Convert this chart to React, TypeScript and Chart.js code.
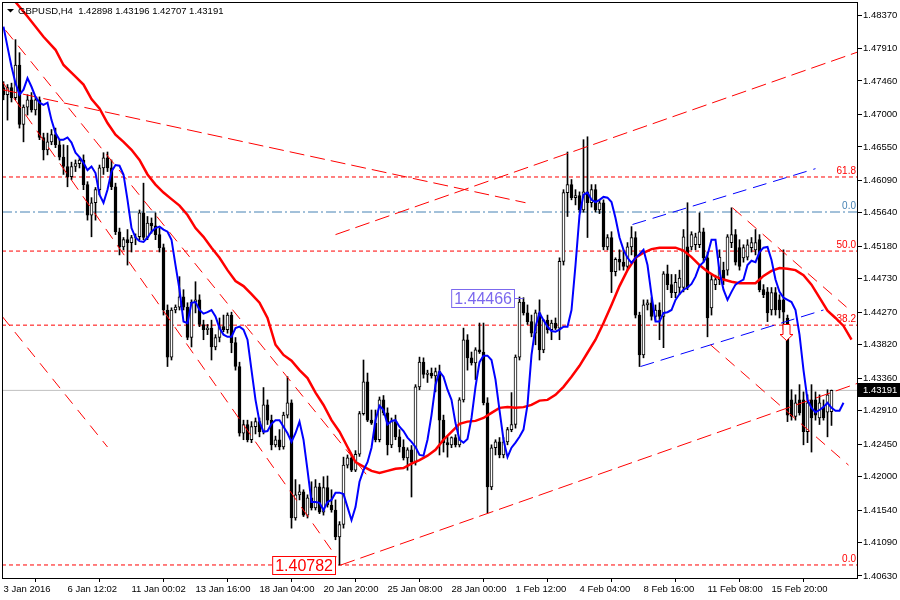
import React, { useEffect, useRef } from 'react';
import { Chart, registerables } from 'chart.js';

Chart.register(...registerables);

// Prices are stored in ten-thousandths (pips); divided by PIP when plotted.
const PIP = 10000;

const opens = [
  14737, 14727, 14737, 14723, 14768, 14686, 14710, 14720, 14706, 14720,
  14668, 14651, 14662, 14672, 14658, 14641, 14628, 14614, 14628, 14632,
  14637, 14603, 14561, 14578, 14596, 14626, 14640, 14626, 14600, 14538,
  14517, 14527, 14523, 14530, 14531, 14564, 14530, 14550, 14546, 14534,
  14516, 14430, 14365, 14430, 14434, 14448, 14434, 14392, 14441, 14444,
  14410, 14403, 14405, 14379, 14392, 14407, 14403, 14423, 14385, 14352,
  14260, 14272, 14251, 14269, 14276, 14262, 14299, 14278, 14244, 14251,
  14241, 14285, 14302, 14143, 14175, 14179, 14147, 14171, 14157, 14186,
  14151, 14185, 14161, 14154, 14117, 14134, 14216, 14226, 14209, 14231,
  14287, 14331, 14278, 14274, 14251, 14306, 14288, 14244, 14276, 14255,
  14241, 14226, 14237, 14220, 14324, 14358, 14341, 14343, 14339, 14345,
  14278, 14247, 14244, 14254, 14244, 14306, 14389, 14364, 14357, 14375,
  14372, 14302, 14186, 14240, 14248, 14230, 14248, 14265, 14272, 14365,
  14441, 14426, 14414, 14398, 14426, 14375, 14416, 14403, 14412, 14405,
  14497, 14592, 14603, 14585, 14588, 14568, 14593, 14578, 14596, 14568,
  14578, 14517, 14530, 14483, 14500, 14496, 14490, 14517, 14530, 14423,
  14368, 14437, 14440, 14421, 14430, 14421, 14480, 14465, 14454, 14461,
  14461, 14517, 14517, 14520, 14520, 14538, 14502, 14433, 14465, 14472,
  14485, 14485, 14523, 14534, 14516, 14502, 14503, 14516, 14513, 14527,
  14458, 14455, 14430, 14454, 14444, 14444, 14419, 14306, 14283, 14306,
  14306, 14262, 14306, 14306, 14281, 14296, 14289, 14289.8,
];
const highs = [
  14745, 14741, 14743, 14803, 14785, 14713, 14727, 14730, 14723, 14724,
  14674, 14674, 14679, 14681, 14665, 14658, 14657, 14634, 14637, 14640,
  14644, 14607, 14585, 14599, 14630, 14647, 14648, 14637, 14605, 14543,
  14530, 14541, 14533, 14535, 14568, 14605, 14559, 14557, 14564, 14543,
  14521, 14437, 14433, 14437, 14476, 14458, 14440, 14444, 14469, 14451,
  14416, 14410, 14416, 14396, 14419, 14423, 14426, 14427, 14392, 14358,
  14278, 14278, 14276, 14281, 14281, 14323, 14306, 14285, 14256, 14265,
  14289, 14338, 14306, 14196, 14189, 14182, 14175, 14193, 14196, 14191,
  14200, 14201, 14182, 14168, 14138, 14227, 14230, 14230, 14236, 14290,
  14361, 14343, 14292, 14292, 14310, 14312, 14295, 14281, 14285, 14265,
  14251, 14240, 14243, 14327, 14365, 14364, 14347, 14350, 14350, 14354,
  14285, 14255, 14255, 14258, 14309, 14405, 14396, 14372, 14378, 14412,
  14412, 14309, 14244, 14251, 14254, 14254, 14268, 14316, 14368, 14448,
  14447, 14437, 14423, 14430, 14444, 14417, 14423, 14416, 14419, 14502,
  14596, 14648, 14610, 14596, 14593, 14665, 14669, 14603, 14603, 14582,
  14582, 14534, 14538, 14502, 14513, 14513, 14523, 14545, 14538, 14427,
  14444, 14444, 14447, 14437, 14440, 14483, 14492, 14479, 14479, 14485,
  14541, 14578, 14538, 14536, 14564, 14543, 14510, 14478, 14478, 14513,
  14496, 14534, 14571, 14541, 14527, 14520, 14527, 14530, 14541, 14534,
  14465, 14461, 14461, 14461, 14451, 14513, 14423, 14320, 14313, 14327,
  14317, 14313, 14327, 14317, 14313, 14306, 14320, 14319.6,
];
const lows = [
  14720, 14692, 14717, 14720, 14681, 14662, 14699, 14703, 14699, 14665,
  14637, 14644, 14658, 14654, 14637, 14617, 14600, 14610, 14621, 14626,
  14596, 14554, 14531, 14554, 14589, 14617, 14621, 14596, 14534, 14506,
  14513, 14492, 14510, 14520, 14527, 14527, 14527, 14536, 14527, 14510,
  14423, 14352, 14361, 14426, 14430, 14430, 14389, 14379, 14426, 14407,
  14389, 14396, 14361, 14375, 14386, 14400, 14398, 14371, 14347, 14256,
  14251, 14248, 14247, 14259, 14255, 14259, 14272, 14237, 14241, 14237,
  14238, 14281, 14129, 14140, 14168, 14145, 14143, 14154, 14154, 14149,
  14147, 14158, 14151, 14113, 14078, 14129, 14212, 14207, 14207, 14228,
  14285, 14276, 14272, 14248, 14248, 14285, 14230, 14240, 14251, 14234,
  14223, 14209, 14172, 14216, 14320, 14336, 14330, 14336, 14317, 14230,
  14234, 14227, 14240, 14241, 14241, 14303, 14347, 14354, 14334, 14370,
  14299, 14150, 14182, 14230, 14226, 14226, 14244, 14262, 14267, 14361,
  14423, 14410, 14393, 14382, 14361, 14371, 14398, 14389, 14403, 14389,
  14492, 14559, 14582, 14575, 14565, 14565, 14530, 14572, 14565, 14563,
  14513, 14513, 14454, 14477, 14485, 14485, 14485, 14506, 14419, 14352,
  14364, 14430, 14416, 14416, 14389, 14378, 14458, 14447, 14447, 14451,
  14455, 14458, 14513, 14513, 14516, 14496, 14393, 14423, 14458, 14465,
  14465, 14478, 14516, 14492, 14485, 14496, 14499, 14510, 14506, 14455,
  14447, 14414, 14423, 14423, 14419, 14403, 14276, 14278, 14278, 14285,
  14244, 14247, 14234, 14278, 14272, 14278, 14255, 14270.7,
];
const closes = [
  14727, 14737, 14723, 14768, 14686, 14710, 14720, 14706, 14720, 14668,
  14651, 14662, 14672, 14658, 14641, 14628, 14614, 14628, 14632, 14637,
  14603, 14561, 14578, 14596, 14626, 14640, 14626, 14600, 14538, 14517,
  14527, 14523, 14530, 14531, 14564, 14530, 14550, 14546, 14534, 14516,
  14430, 14365, 14430, 14434, 14448, 14434, 14392, 14441, 14444, 14410,
  14403, 14405, 14379, 14392, 14407, 14403, 14423, 14385, 14352, 14260,
  14272, 14251, 14269, 14276, 14262, 14299, 14278, 14244, 14251, 14241,
  14285, 14302, 14143, 14175, 14179, 14147, 14171, 14157, 14186, 14151,
  14185, 14161, 14154, 14117, 14134, 14216, 14226, 14209, 14231, 14287,
  14331, 14278, 14274, 14251, 14306, 14288, 14244, 14276, 14255, 14241,
  14226, 14237, 14220, 14324, 14358, 14341, 14343, 14339, 14345, 14278,
  14247, 14244, 14254, 14244, 14306, 14389, 14364, 14357, 14375, 14372,
  14302, 14186, 14240, 14248, 14230, 14248, 14265, 14272, 14365, 14441,
  14426, 14414, 14398, 14426, 14375, 14416, 14403, 14412, 14405, 14497,
  14592, 14603, 14585, 14588, 14568, 14593, 14578, 14596, 14568, 14578,
  14517, 14530, 14483, 14500, 14496, 14490, 14517, 14530, 14423, 14368,
  14437, 14440, 14421, 14430, 14421, 14480, 14465, 14454, 14468, 14474,
  14531, 14461, 14534, 14531, 14538, 14502, 14419, 14472, 14472, 14503,
  14472, 14531, 14534, 14496, 14490, 14516, 14520, 14523, 14523, 14458,
  14451, 14426, 14454, 14430, 14430, 14427, 14285, 14283, 14302, 14288,
  14262, 14302, 14281, 14285, 14302, 14281, 14313, 14319.1,
];

// fast moving average (blue), one reading per bar position
const blueMA = [
  14821, 14793, 14766, 14743, 14727, 14734, 14750, 14738, 14724, 14716,
  14713, 14716, 14692, 14674, 14665, 14665, 14668, 14661, 14647, 14641,
  14633, 14623, 14628, 14619, 14589, 14578, 14596, 14621, 14630, 14629,
  14617, 14582, 14543, 14530, 14525, 14524, 14530, 14538, 14543, 14545,
  14541, 14538, 14527, 14492, 14458, 14414, 14412, 14440, 14441, 14430,
  14425, 14427, 14430, 14421, 14405, 14396, 14393, 14393, 14405, 14407,
  14403, 14389, 14347, 14306, 14276, 14262, 14263, 14273, 14278, 14278,
  14269, 14260, 14248, 14260, 14276, 14251, 14209, 14165, 14165, 14164,
  14154, 14165, 14168, 14178, 14178, 14176, 14158, 14140, 14158, 14193,
  14209, 14220, 14240, 14278, 14298, 14292, 14272, 14277, 14278, 14269,
  14263, 14254, 14248, 14241, 14230, 14229, 14251, 14285, 14327, 14345,
  14338, 14320, 14306, 14274, 14251, 14247, 14252, 14281, 14324, 14358,
  14367, 14367, 14361, 14334, 14292, 14251, 14227, 14240, 14247, 14255,
  14265, 14299, 14368, 14407, 14426, 14416, 14407, 14401, 14400, 14403,
  14407, 14407, 14430, 14492, 14561, 14589, 14592, 14582, 14579, 14582,
  14586, 14585, 14579, 14557, 14530, 14513, 14502, 14495, 14502, 14507,
  14513, 14492, 14451, 14414, 14414, 14426, 14427, 14430, 14444, 14452,
  14458, 14461, 14466, 14476, 14491, 14496, 14506, 14527, 14527, 14483,
  14458, 14444, 14455, 14465, 14469, 14472, 14492, 14498, 14496, 14510,
  14516, 14517, 14499, 14472, 14455, 14447, 14444, 14441, 14430, 14396,
  14347, 14306, 14295, 14289, 14292, 14296, 14302, 14295, 14291, 14291,
  14302,
];

// slow moving average (red): bar positions and readings
const redBars = [
  3, 6, 10, 13, 15, 18, 20, 22, 24, 26, 28, 30, 32, 34, 36, 38, 40, 42, 44, 46,
  48, 50, 52, 54, 56, 58, 60, 62, 64, 66, 68, 70, 72, 74, 76, 78, 80, 82, 84, 86,
  88, 90, 92, 94, 96, 98, 100, 102, 104, 106, 108, 110, 112, 114, 116, 118, 120,
  122, 124, 126, 128, 130, 132, 134, 136, 138, 140, 142, 144, 146, 148, 150, 152,
  154, 156, 158, 160, 162, 164, 166, 168, 170, 172, 174, 176, 178, 180, 182, 184,
  186, 188, 190, 192, 194, 196, 198, 200, 202, 204, 206, 208, 210, 212,
];
const redMA = [
  14855, 14835, 14807, 14789, 14768, 14752, 14741, 14721, 14708, 14688, 14672,
  14662, 14651, 14637, 14617, 14603, 14592, 14583, 14574, 14561, 14543, 14531,
  14516, 14502, 14485, 14470, 14463, 14452, 14440, 14419, 14382, 14368, 14360,
  14347, 14336, 14316, 14299, 14278, 14262, 14241, 14220, 14214, 14208, 14205,
  14208, 14211, 14212, 14218, 14223, 14229, 14237, 14251, 14262, 14273, 14276,
  14277, 14281, 14288, 14295, 14296, 14295, 14296, 14299, 14305, 14306, 14313,
  14324, 14338, 14353, 14371, 14389, 14412, 14437, 14463, 14485, 14502, 14509,
  14514, 14516, 14516, 14516, 14512, 14503, 14492, 14483, 14476, 14472, 14469,
  14467, 14467, 14467, 14477, 14484, 14488, 14487, 14485, 14478, 14465, 14447,
  14429, 14419, 14408, 14389,
];

// trend lines: [bar, price, bar, price]
const longRedLines = [
  [-0.3, 1.4734, 130.5, 1.4578],
  [83, 1.4534, 213.6, 1.4786],
  [84.25, 1.4078, 213.6, 1.4329],
];
const fineRedLines = [
  [0.5, 1.4816, 91.75, 1.4196],
  [-0.3, 1.4745, 83.25, 1.4089],
  [-0.3, 1.4421, 26, 1.4241],
  [182.25, 1.4571, 210.75, 1.4434],
  [176.75, 1.4382, 211.25, 1.4216],
];
const blueChannel = [
  [157.25, 1.4548, 203, 1.4625],
  [159.25, 1.4352, 205, 1.4430],
];

const fibLevels = [1.46135, 1.45113, 1.44091, 1.40782];
const fibNames = ['61.8', '50.0', '38.2', '0.0'];
const fibTopLevel = 1.45652;
const fibTopName = '0.0';
const lastPrice = 1.43191;
const lowMark = { bar: 84, price: 1.40782, text: '1.40782' };
const highMark = { bar: 130, price: 1.44466, text: '1.44466' };
const sellArrow = { bar: 195.75, price: 1.4410 };
const titleText = 'GBPUSD,H4  1.42898 1.43196 1.42707 1.43191';

const xTickBars = [0, 16, 32, 48, 64, 80, 96, 112, 128, 144, 160, 176, 192];
const xTickLabels = [
  '3 Jan 2016', '6 Jan 12:02', '11 Jan 00:02', '13 Jan 16:00', '18 Jan 04:00',
  '20 Jan 20:00', '25 Jan 08:00', '28 Jan 00:00', '1 Feb 12:00', '4 Feb 04:00',
  '8 Feb 16:00', '11 Feb 08:00', '15 Feb 20:00',
];
const yTickValues = [
  1.4063, 1.4109, 1.4154, 1.42, 1.4245, 1.4291, 1.4336, 1.4382, 1.4427,
  1.4473, 1.4518, 1.4564, 1.4609, 1.4655, 1.47, 1.4746, 1.4791, 1.4837,
];

const X_MIN = -0.375;
const X_MAX = 213.625;
const Y_MIN = 1.405886;
const Y_MAX = 1.485494;

const ARIAL = "'Liberation Sans', Arial, sans-serif";
const AXIS_SIZE = 9.5;

function segment(l: number[], color: string, dash: number[], width = 1) {
  return {
    type: 'line' as const,
    data: [
      { x: l[0], y: l[1] },
      { x: l[2], y: l[3] },
    ],
    borderColor: color,
    borderWidth: width,
    borderDash: dash,
    pointRadius: 0,
    fill: false,
    order: 3,
  };
}

const overlayPlugin = {
  id: 'mtOverlay',
  afterDatasetsDraw(chart: any) {
    const { ctx, chartArea: a, scales } = chart;
    const xs = scales.x;
    const ys = scales.y;
    ctx.save();
    // fib labels
    ctx.font = `10px ${ARIAL}`;
    ctx.textAlign = 'right';
    ctx.textBaseline = 'bottom';
    fibLevels.forEach((lv, i) => {
      ctx.fillStyle = '#ff0000';
      ctx.fillText(fibNames[i], a.right - 2, ys.getPixelForValue(lv) - 1);
    });
    ctx.fillStyle = '#4682b4';
    ctx.fillText(fibTopName, a.right - 2, ys.getPixelForValue(fibTopLevel) - 1);

    // price boxes
    ctx.font = `16px ${ARIAL}`;
    ctx.textAlign = 'left';
    ctx.textBaseline = 'middle';
    const drawBox = (m: any, color: string, gap: number) => {
      const px = xs.getPixelForValue(m.bar);
      const py = ys.getPixelForValue(m.price);
      const w = ctx.measureText(m.text).width + 5;
      const h = 18;
      const right = Math.round(px - gap) + 0.5;
      const left = right - w;
      const top = Math.round(py - h / 2) + 0.5;
      ctx.fillStyle = '#ffffff';
      ctx.fillRect(left, top, w, h);
      ctx.strokeStyle = color;
      ctx.lineWidth = 1;
      ctx.strokeRect(left, top, w, h);
      ctx.fillStyle = color;
      ctx.fillText(m.text, left + 2.5, top + h / 2 + 1);
      if (gap > 6) {
        ctx.beginPath();
        ctx.moveTo(right, Math.round(py) + 0.5);
        ctx.lineTo(px, Math.round(py) + 0.5);
        ctx.stroke();
      }
    };
    drawBox(lowMark, '#ff0000', 5);
    drawBox(highMark, '#7b68ee', 10);

    // sell arrow
    const ax = xs.getPixelForValue(sellArrow.bar);
    const ay = ys.getPixelForValue(sellArrow.price);
    ctx.beginPath();
    ctx.moveTo(ax - 3.5, ay);
    ctx.lineTo(ax + 3.5, ay);
    ctx.lineTo(ax + 3.5, ay + 10);
    ctx.lineTo(ax + 6.5, ay + 10);
    ctx.lineTo(ax, ay + 16);
    ctx.lineTo(ax - 6.5, ay + 10);
    ctx.lineTo(ax - 3.5, ay + 10);
    ctx.closePath();
    ctx.fillStyle = '#ffffff';
    ctx.fill();
    ctx.strokeStyle = '#ff0000';
    ctx.lineWidth = 1;
    ctx.stroke();
    ctx.restore();
  },
  afterDraw(chart: any) {
    const { ctx, chartArea: a, scales } = chart;
    const ys = scales.y;
    ctx.save();
    // frame
    ctx.strokeStyle = '#000000';
    ctx.lineWidth = 1;
    ctx.strokeRect(a.left + 0.5, a.top + 0.5, a.right - a.left - 1, a.bottom - a.top - 1);
    // title
    ctx.fillStyle = '#000000';
    ctx.beginPath();
    ctx.moveTo(7, 9);
    ctx.lineTo(14, 9);
    ctx.lineTo(10.5, 12.5);
    ctx.closePath();
    ctx.fill();
    ctx.font = `${AXIS_SIZE}px ${ARIAL}`;
    ctx.textAlign = 'left';
    ctx.textBaseline = 'middle';
    ctx.fillText(titleText, 18, 11);
    // current price box on the axis
    const py = Math.round(ys.getPixelForValue(lastPrice));
    ctx.fillStyle = '#000000';
    ctx.fillRect(a.right, py - 7, chart.width - a.right, 14);
    ctx.fillStyle = '#ffffff';
    ctx.fillText(lastPrice.toFixed(5), a.right + 5, py + 0.5);
    ctx.restore();
  },
};

export default function App() {
  const ref = useRef<HTMLCanvasElement | null>(null);

  useEffect(() => {
    document.body.style.margin = '0';
    const canvas = ref.current;
    if (!canvas) return;

    const wicks = lows.map((l, i) => ({ x: i, y: [l / PIP, highs[i] / PIP] }));
    const bodies = opens.map((o, i) => ({ x: i, y: [o / PIP, closes[i] / PIP] }));
    const bodyColors = opens.map((o, i) => (closes[i] >= o ? '#ffffff' : '#000000'));

    const hLine = (v: number, color: string, dash: number[]) => ({
      type: 'line' as const,
      data: [
        { x: X_MIN, y: v },
        { x: X_MAX, y: v },
      ],
      borderColor: color,
      borderWidth: 1,
      borderDash: dash,
      pointRadius: 0,
      fill: false,
      order: 6,
    });

    const datasets: any[] = [
      ...fibLevels.map((v) => hLine(v, '#ff0000', [4, 3])),
      hLine(fibTopLevel, '#4682b4', [10, 3, 2, 3]),
      hLine(lastPrice, '#c0c0c0', []),
      {
        type: 'bar',
        data: wicks,
        backgroundColor: '#000000',
        borderWidth: 0,
        barThickness: 1,
        grouped: false,
        order: 5,
      },
      {
        type: 'bar',
        data: bodies,
        backgroundColor: bodyColors,
        borderColor: '#000000',
        borderWidth: 1,
        borderSkipped: false,
        barThickness: 3,
        grouped: false,
        order: 4,
      },
      ...longRedLines.map((l) => segment(l, '#ff0000', [15, 6])),
      ...fineRedLines.map((l) => segment(l, '#ff0000', [12, 8])),
      ...blueChannel.map((l) => segment(l, '#0000ff', [14, 7])),
      {
        type: 'line',
        data: redBars.map((b, i) => ({ x: b, y: redMA[i] / PIP })),
        borderColor: '#ff0000',
        borderWidth: 2.5,
        pointRadius: 0,
        fill: false,
        tension: 0,
        order: 2,
      },
      {
        type: 'line',
        data: blueMA.map((v, i) => ({ x: i, y: v / PIP })),
        borderColor: '#0000ff',
        borderWidth: 2,
        pointRadius: 0,
        fill: false,
        tension: 0,
        order: 1,
      },
    ];

    const chart = new Chart(canvas, {
      type: 'bar',
      data: { datasets },
      plugins: [overlayPlugin],
      options: {
        responsive: false,
        animation: false,
        devicePixelRatio: 1,
        events: [],
        layout: { padding: { left: 2, top: 2, right: 0, bottom: 0 } },
        plugins: {
          legend: { display: false },
          tooltip: { enabled: false },
          title: { display: false },
        },
        scales: {
          x: {
            type: 'linear',
            min: X_MIN,
            max: X_MAX,
            offset: false,
            afterBuildTicks: (s: any) => {
              s.ticks = xTickBars.map((v) => ({ value: v }));
            },
            afterFit: (s: any) => {
              s.height = 21;
              s.paddingLeft = 0;
              s.paddingRight = 0;
            },
            ticks: {
              autoSkip: false,
              maxRotation: 0,
              minRotation: 0,
              align: 'start',
              padding: 2,
              color: '#000000',
              font: { family: ARIAL, size: AXIS_SIZE },
              callback: (_v: any, i: number) => xTickLabels[i],
            },
            grid: {
              drawOnChartArea: false,
              drawTicks: true,
              tickLength: 3,
              color: '#000000',
            },
            border: { display: false },
          },
          y: {
            type: 'linear',
            position: 'right',
            min: Y_MIN,
            max: Y_MAX,
            afterBuildTicks: (s: any) => {
              s.ticks = yTickValues.map((v) => ({ value: v }));
            },
            afterFit: (s: any) => {
              s.width = 42;
              s.paddingTop = 0;
              s.paddingBottom = 0;
            },
            ticks: {
              autoSkip: false,
              padding: 1,
              color: '#000000',
              font: { family: ARIAL, size: AXIS_SIZE },
              callback: (v: any) => Number(v).toFixed(5),
            },
            grid: {
              drawOnChartArea: false,
              drawTicks: true,
              tickLength: 4,
              color: '#000000',
            },
            border: { display: false },
          },
        },
      } as any,
    });

    return () => chart.destroy();
  }, []);

  return (
    <div style={{ position: 'absolute', left: 0, top: 0, width: 900, height: 600, background: '#ffffff' }}>
      <canvas ref={ref} width={900} height={600} style={{ display: 'block' }} />
    </div>
  );
}
